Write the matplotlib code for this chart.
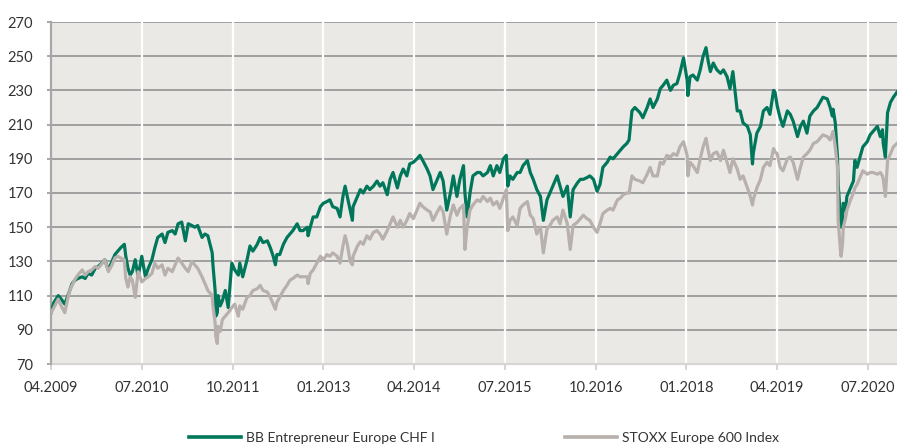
import matplotlib
matplotlib.use("Agg")
import matplotlib.pyplot as plt

# decimal years
years = [2009.25, 2009.29, 2009.35, 2009.39, 2009.44, 2009.50, 2009.54, 2009.58, 2009.62, 2009.68,
         2009.72, 2009.76, 2009.81, 2009.86, 2009.90, 2009.95, 2009.99, 2010.04, 2010.09, 2010.13,
         2010.17, 2010.21, 2010.26, 2010.28, 2010.31, 2010.34, 2010.37, 2010.41, 2010.45, 2010.50,
         2010.55, 2010.59, 2010.64, 2010.68, 2010.72, 2010.78, 2010.82, 2010.86, 2010.92, 2010.96,
         2011.00, 2011.05, 2011.10, 2011.14, 2011.19, 2011.23, 2011.27, 2011.33, 2011.37, 2011.41,
         2011.47, 2011.48, 2011.51, 2011.52, 2011.54, 2011.55, 2011.58, 2011.61, 2011.65, 2011.69,
         2011.74, 2011.78, 2011.83, 2011.85, 2011.89, 2011.95, 2011.99, 2012.03, 2012.09, 2012.13,
         2012.17, 2012.23, 2012.27, 2012.31, 2012.34, 2012.36, 2012.40, 2012.45, 2012.50, 2012.54,
         2012.58, 2012.64, 2012.68, 2012.72, 2012.78, 2012.79, 2012.82, 2012.86, 2012.91, 2012.96,
         2013.00, 2013.05, 2013.09, 2013.13, 2013.19, 2013.23, 2013.27, 2013.30, 2013.33, 2013.37,
         2013.40, 2013.41, 2013.47, 2013.51, 2013.55, 2013.60, 2013.64, 2013.69, 2013.74, 2013.78,
         2013.82, 2013.88, 2013.92, 2013.96, 2014.02, 2014.06, 2014.10, 2014.15, 2014.19, 2014.24,
         2014.29, 2014.33, 2014.37, 2014.43, 2014.47, 2014.51, 2014.57, 2014.61, 2014.65, 2014.70,
         2014.75, 2014.79, 2014.84, 2014.88, 2014.93, 2014.95, 2014.98, 2015.02, 2015.06, 2015.12,
         2015.16, 2015.20, 2015.26, 2015.30, 2015.34, 2015.39, 2015.43, 2015.48, 2015.52, 2015.54,
         2015.57, 2015.61, 2015.67, 2015.71, 2015.75, 2015.81, 2015.85, 2015.89, 2015.94, 2015.99,
         2016.03, 2016.08, 2016.12, 2016.16, 2016.22, 2016.26, 2016.30, 2016.36, 2016.40, 2016.44,
         2016.50, 2016.54, 2016.58, 2016.63, 2016.67, 2016.72, 2016.77, 2016.81, 2016.85, 2016.91,
         2016.95, 2016.99, 2017.05, 2017.09, 2017.13, 2017.18, 2017.21, 2017.25, 2017.29, 2017.36,
         2017.40, 2017.46, 2017.50, 2017.54, 2017.60, 2017.64, 2017.68, 2017.73, 2017.78, 2017.82,
         2017.87, 2017.91, 2017.96, 2018.01, 2018.02, 2018.05, 2018.09, 2018.15, 2018.19, 2018.23,
         2018.27, 2018.30, 2018.33, 2018.37, 2018.42, 2018.47, 2018.51, 2018.56, 2018.60, 2018.64,
         2018.70, 2018.74, 2018.78, 2018.84, 2018.88, 2018.91, 2018.92, 2018.97, 2019.02, 2019.06,
         2019.11, 2019.15, 2019.20, 2019.22, 2019.25, 2019.29, 2019.33, 2019.39, 2019.43, 2019.47,
         2019.53, 2019.57, 2019.61, 2019.66, 2019.70, 2019.75, 2019.80, 2019.84, 2019.88, 2019.94,
         2019.98, 2020.01, 2020.02, 2020.05, 2020.08, 2020.09, 2020.12, 2020.13, 2020.15, 2020.16,
         2020.19, 2020.21, 2020.26, 2020.30, 2020.32, 2020.35, 2020.39, 2020.43, 2020.49, 2020.53,
         2020.57, 2020.63, 2020.67, 2020.70, 2020.71, 2020.74, 2020.77, 2020.81, 2020.85, 2020.90]

bb_entrepreneur = [100, 106, 110, 108, 105, 112, 117, 119, 120, 121,
                   120, 123, 122, 126, 127, 129, 131, 125, 130, 134,
                   136, 138, 140, 133, 126, 122, 124, 131, 121, 133,
                   121, 126, 131, 138, 144, 146, 141, 147, 148, 146,
                   152, 153, 142, 152, 151, 150, 151, 144, 146, 145,
                   135, 128, 113, 98, 100, 110, 104, 107, 113, 103,
                   129, 125, 122, 129, 121, 131, 139, 136, 140, 144,
                   141, 142, 138, 133, 128, 134, 134, 140, 144, 146,
                   148, 152, 148, 148, 150, 145, 150, 156, 156, 162,
                   164, 165, 166, 162, 161, 156, 168, 174, 168, 160,
                   154, 162, 168, 172, 170, 174, 172, 174, 177, 174,
                   176, 169, 178, 182, 173, 180, 184, 180, 187, 188,
                   190, 192, 189, 184, 180, 172, 178, 182, 177, 160,
                   170, 180, 168, 178, 186, 170, 156, 170, 180, 182,
                   182, 180, 182, 186, 180, 186, 182, 190, 192, 174,
                   180, 178, 182, 182, 186, 189, 182, 178, 172, 168,
                   154, 166, 170, 174, 180, 174, 168, 174, 156, 172,
                   176, 178, 178, 179, 180, 178, 171, 175, 185, 188,
                   191, 190, 193, 195, 197, 199, 201, 218, 220, 217,
                   214, 220, 225, 220, 225, 231, 233, 236, 230, 233,
                   234, 240, 249, 236, 227, 238, 239, 236, 242, 250,
                   255, 247, 241, 246, 242, 240, 242, 238, 231, 241,
                   218, 218, 211, 209, 204, 187, 193, 205, 209, 218,
                   220, 216, 230, 229, 221, 214, 209, 218, 216, 212,
                   203, 209, 212, 205, 215, 218, 220, 223, 226, 225,
                   220, 215, 219, 211, 191, 175, 156, 150, 154, 164,
                   160, 168, 173, 177, 189, 185, 191, 197, 200, 204,
                   206, 209, 203, 207, 199, 191, 217, 223, 226, 229]

stoxx_600 = [100, 103, 108, 104, 100, 112, 116, 119.5, 122, 125,
             122, 124, 125, 127, 126, 128.6, 131, 124, 128, 132,
             133, 132, 131, 120, 115, 121, 119, 109, 124, 118,
             120, 121, 123, 129, 126, 128, 122, 126, 124, 128,
             132, 129, 126, 124, 130, 128, 126, 121, 117, 113,
             110, 104, 94, 86, 82, 92, 89, 96, 98, 100,
             103, 105, 98, 104, 102, 109, 110, 113, 114, 116,
             113, 112, 109, 105, 102, 106, 109, 113, 116, 119,
             120, 122, 121, 121, 121, 117, 123, 125, 129, 133,
             131, 134, 133, 135, 133, 129, 139, 145, 140, 130,
             128, 133, 139, 141.5, 140, 145, 143, 147, 148, 146,
             143, 148, 152, 156, 150, 154, 150, 154, 158, 155,
             160, 164, 162, 160, 159, 154, 159, 162, 159, 146,
             157, 163, 157, 161, 163, 137, 150, 160, 163, 166,
             165, 168, 165, 167, 163, 165, 161, 167, 172, 148,
             154, 156, 151, 161, 163, 165, 157, 155, 146, 150,
             135, 149, 151, 154, 156, 152, 160, 152, 137, 151,
             153, 155, 157, 155, 154, 150, 147, 152, 158, 160,
             161, 160, 166, 167, 169, 170, 170, 180, 178, 177,
             176, 181, 185, 180, 180, 188, 187, 192, 191, 193,
             192, 197, 200, 192, 180, 188, 186, 182, 190, 197,
             202, 195, 189, 193, 194, 189, 195, 188, 182, 190,
             184, 178, 180, 173, 168, 163, 166, 173, 178, 185,
             188, 186, 196, 194, 193, 185, 183, 190, 191, 188,
             178, 185, 191, 193, 195, 199, 200, 202, 204, 203,
             201, 205, 206, 197, 185, 154, 137, 133, 140, 150,
             155, 160, 166, 170, 173, 175, 179, 183, 181, 182,
             182, 181, 182, 180, 178, 168, 189, 193, 197, 199]

tick_pos = [2009.25, 2010.5, 2011.75, 2013.0, 2014.25, 2015.5, 2016.75, 2018.0, 2019.25, 2020.5]
tick_labels = ["04.2009", "07.2010", "10.2011", "01.2013", "04.2014", "07.2015",
               "10.2016", "01.2018", "04.2019", "07.2020"]
y_ticks = list(range(70, 271, 20))

series_names = ["BB Entrepreneur Europe CHF I", "STOXX Europe 600 Index"]

assert len(years) == len(bb_entrepreneur) == len(stoxx_600)

plt.rcParams['font.family'] = ['Lato', 'DejaVu Sans']

fig = plt.figure(figsize=(8.97, 4.47), dpi=100)
ax = fig.add_axes([51/897, 1 - 364/447, 1 - 51/897, (364 - 22)/447])
ax.set_facecolor("#ebe9e6")
ax.set_axisbelow(True)

green = "#00775a"
grey = "#b7b0ac"

ax.grid(axis="y", color="#9a9a9a", linewidth=1.3, zorder=0.5)
for t in tick_pos[1:]:
    ax.axvline(t, color="white", linewidth=1.6, zorder=1)

ax.plot(years, bb_entrepreneur, color=green, linewidth=2.3, zorder=3,
        label=series_names[0], solid_joinstyle="round")
ax.plot(years, stoxx_600, color=grey, linewidth=2.3, zorder=3.1,
        label=series_names[1], solid_joinstyle="round")

ax.set_xlim(2009.25, 2020.9)
ax.set_ylim(70, 270)
ax.set_xticks(tick_pos)
ax.set_xticklabels(tick_labels)
ax.set_yticks(y_ticks)

for s in ["top", "right"]:
    ax.spines[s].set_visible(False)
ax.spines["left"].set_color("#a8a8a8")
ax.spines["left"].set_linewidth(1.6)
ax.spines["bottom"].set_color("#d8d6d3")
ax.spines["bottom"].set_linewidth(1.6)
ax.spines["bottom"].set_zorder(2)

ax.tick_params(axis="x", length=4, width=1.2, color="#cfcdca", pad=8,
               labelsize=10.5, labelcolor="#333333")
ax.tick_params(axis="y", length=3, width=1.2, color="#9a9a9a", pad=10,
               labelsize=10.5, labelcolor="#333333")

handles, labels = ax.get_legend_handles_labels()
leg = fig.legend(handles, labels, loc="center", bbox_to_anchor=(484/897, 1 - 438/447),
                 ncol=2, frameon=False, handlelength=3.75, handletextpad=0.36,
                 columnspacing=9.4, fontsize=10.0, labelcolor="#333333")
for line in leg.get_lines():
    line.set_linewidth(2.6)

fig.savefig("out.png", dpi=100)
